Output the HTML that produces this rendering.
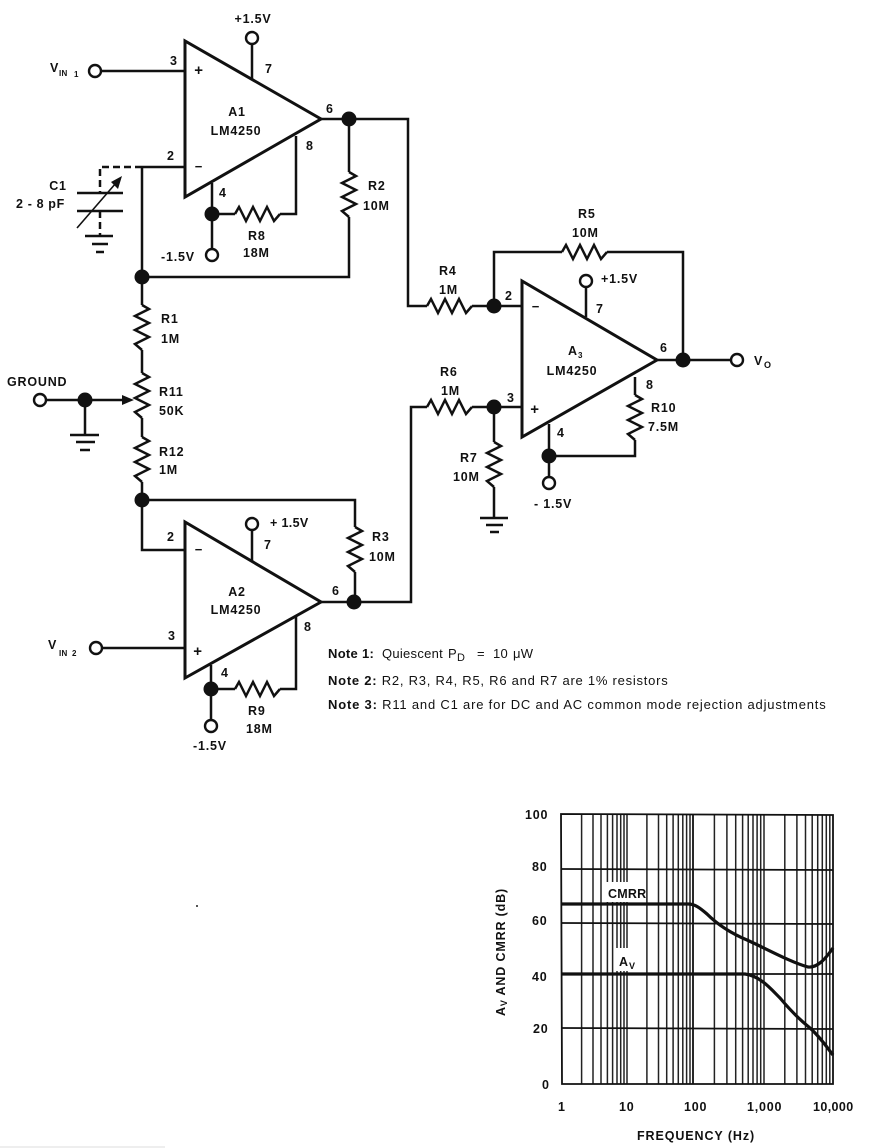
<!DOCTYPE html>
<html><head><meta charset="utf-8"><title>LM4250 instrumentation amplifier</title>
<style>
html,body{margin:0;padding:0;background:#fff}
svg{display:block}
text{font-family:"Liberation Sans",sans-serif;font-size:12.5px;font-weight:bold;fill:#111;letter-spacing:.8px}
.n{font-weight:normal;font-size:13px;letter-spacing:.3px;fill:#111}
.b{font-weight:bold}
.m{text-anchor:middle}
.w{fill:none;stroke:#111;stroke-width:2.5;stroke-linejoin:miter}
.t{fill:none;stroke:#111;stroke-width:3}
.c{fill:#fff;stroke:#111;stroke-width:2.4}
.d{fill:#111}
.g{stroke:#222;stroke-width:1.5;fill:none}
.h{stroke:#111;stroke-width:1.8;fill:none}
</style></head><body>
<svg xmlns="http://www.w3.org/2000/svg" width="890" height="1148" viewBox="0 0 890 1148">
<defs><path id="z" class="w" d="M0 0L4-7 11 7 18-7 25 7 32-7 39 7 45 0"/></defs>

<!-- Op amps -->
<path class="t" d="M185 41V197L321 119Z"/>
<path class="t" d="M185 522V678L321 602Z"/>
<path class="t" d="M522 281V437L657 360Z"/>

<!-- A1 wiring -->
<path class="w" d="M101 71H185M252 44V79M321 119H408V306H427M349 119V172M349 217V277H142M142 167V305M142 167H185"/>
<path class="w" d="M212 183V249M212 214H235M280 214H296V136"/>
<path class="w" stroke-dasharray="7 4" d="M142 167H100V193"/>
<path class="w" stroke-dasharray="7 4" d="M100 211V236"/>
<path class="w" d="M77 193H123M77 211H123M85 236H113"/>
<path class="w" d="M92 244H108M96 252H104"/>
<path d="M77 228L116 183" stroke="#111" stroke-width="1.6" fill="none"/>
<path class="d" d="M122 176L118 189 111 182Z"/>

<!-- Divider and ground -->
<path class="w" d="M142 350V373M142 418V437M142 482V550H185M142 500H355V527M355 572V602"/>
<path class="w" d="M46 400H128M85 400V435M70 435H99M76 442H95M80 450H90"/>
<path class="d" d="M122 395L134 400 122 405Z"/>

<!-- A2 wiring -->
<path class="w" d="M102 648H185M252 530V562M321 602H411V407H427M211 665V720M211 689H235M280 689H296V616"/>

<!-- A3 wiring -->
<path class="w" d="M472 306H522M494 306V252H562M607 252H683V360M657 360H731M586 287V317M472 407H522M494 407V442M494 487V518M480 518H508M486 525H503M490 532H499"/>
<path class="w" d="M549 424V477M549 456H635V440M635 395V377"/>

<!-- Resistors -->
<use href="#z" transform="translate(349,172) rotate(90)"/>
<use href="#z" transform="translate(235,214)"/>
<use href="#z" transform="translate(142,305) rotate(90)"/>
<use href="#z" transform="translate(142,373) rotate(90)"/>
<use href="#z" transform="translate(142,437) rotate(90)"/>
<use href="#z" transform="translate(355,527) rotate(90)"/>
<use href="#z" transform="translate(235,689)"/>
<use href="#z" transform="translate(427,306)"/>
<use href="#z" transform="translate(562,252)"/>
<use href="#z" transform="translate(427,407)"/>
<use href="#z" transform="translate(494,442) rotate(90)"/>
<use href="#z" transform="translate(635,395) rotate(90)"/>

<!-- Terminals -->
<circle class="c" cx="95" cy="71" r="6"/>
<circle class="c" cx="252" cy="38" r="6"/>
<circle class="c" cx="212" cy="255" r="6"/>
<circle class="c" cx="40" cy="400" r="6"/>
<circle class="c" cx="252" cy="524" r="6"/>
<circle class="c" cx="96" cy="648" r="6"/>
<circle class="c" cx="211" cy="726" r="6"/>
<circle class="c" cx="586" cy="281" r="6"/>
<circle class="c" cx="737" cy="360" r="6"/>
<circle class="c" cx="549" cy="483" r="6"/>

<!-- Junctions -->
<circle class="d" cx="349" cy="119" r="7.5"/>
<circle class="d" cx="212" cy="214" r="7.5"/>
<circle class="d" cx="142" cy="277" r="7.5"/>
<circle class="d" cx="85" cy="400" r="7.5"/>
<circle class="d" cx="142" cy="500" r="7.5"/>
<circle class="d" cx="354" cy="602" r="7.5"/>
<circle class="d" cx="211" cy="689" r="7.5"/>
<circle class="d" cx="494" cy="306" r="7.5"/>
<circle class="d" cx="683" cy="360" r="7.5"/>
<circle class="d" cx="494" cy="407" r="7.5"/>
<circle class="d" cx="549" cy="456" r="7.5"/>

<!-- A1 labels -->
<text x="253" y="23" class="m">+1.5V</text>
<text x="50" y="72">V</text><text x="59" y="76" style="font-size:8px;letter-spacing:.3px">IN</text><text x="74" y="77" style="font-size:8px">1</text>
<text x="170" y="65">3</text>
<text x="199" y="75" class="m" style="font-size:15px">+</text>
<text x="199" y="171" class="m" style="font-size:13px">−</text>
<text x="265" y="73">7</text>
<text x="237" y="116" class="m">A1</text>
<text x="236" y="135" class="m">LM4250</text>
<text x="326" y="113">6</text>
<text x="306" y="150">8</text>
<text x="167" y="160">2</text>
<text x="219" y="197">4</text>
<text x="58" y="190" class="m">C1</text>
<text x="16" y="208" textLength="49" lengthAdjust="spacing">2 - 8 pF</text>
<text x="368" y="190">R2</text>
<text x="363" y="210">10M</text>
<text x="248" y="240">R8</text>
<text x="243" y="257">18M</text>
<text x="161" y="261">-1.5V</text>

<!-- Divider labels -->
<text x="161" y="323">R1</text>
<text x="161" y="343">1M</text>
<text x="7" y="386">GROUND</text>
<text x="159" y="396">R11</text>
<text x="159" y="415">50K</text>
<text x="159" y="456">R12</text>
<text x="159" y="474">1M</text>

<!-- A2 labels -->
<text x="167" y="541">2</text>
<text x="199" y="554" class="m" style="font-size:13px">−</text>
<text x="270" y="527" textLength="39" lengthAdjust="spacing">+ 1.5V</text>
<text x="264" y="549">7</text>
<text x="237" y="596" class="m">A2</text>
<text x="236" y="614" class="m">LM4250</text>
<text x="332" y="595">6</text>
<text x="372" y="541">R3</text>
<text x="369" y="561">10M</text>
<text x="48" y="649">V</text><text x="59" y="656" style="font-size:8px;letter-spacing:.3px">IN</text><text x="72" y="656" style="font-size:8px">2</text>
<text x="168" y="640">3</text>
<text x="198" y="656" class="m" style="font-size:15px">+</text>
<text x="304" y="631">8</text>
<text x="221" y="677">4</text>
<text x="248" y="715">R9</text>
<text x="246" y="733">18M</text>
<text x="193" y="750">-1.5V</text>

<!-- A3 labels -->
<text x="578" y="218">R5</text>
<text x="572" y="237">10M</text>
<text x="439" y="275">R4</text>
<text x="439" y="294">1M</text>
<text x="505" y="300">2</text>
<text x="536" y="311" class="m" style="font-size:13px">−</text>
<text x="601" y="283">+1.5V</text>
<text x="596" y="313">7</text>
<text x="568" y="355">A</text><text x="578" y="358" style="font-size:8px">3</text>
<text x="572" y="375" class="m">LM4250</text>
<text x="660" y="352">6</text>
<text x="754" y="365">V</text><text x="764" y="368" style="font-size:9px">O</text>
<text x="646" y="389">8</text>
<text x="651" y="412">R10</text>
<text x="648" y="431">7.5M</text>
<text x="440" y="376">R6</text>
<text x="441" y="395">1M</text>
<text x="507" y="402">3</text>
<text x="535" y="414" class="m" style="font-size:15px">+</text>
<text x="557" y="437">4</text>
<text x="460" y="462">R7</text>
<text x="453" y="481">10M</text>
<text x="534" y="508">- 1.5V</text>

<!-- Notes -->
<text class="n b" x="328" y="658">Note 1:</text>
<text class="n" x="382" y="658" textLength="61" lengthAdjust="spacing">Quiescent</text>
<text class="n" x="448" y="658">P</text><text class="n" x="457" y="661" style="font-size:11px">D</text>
<text class="n" x="477" y="658">=</text>
<text class="n" x="493" y="658">10</text>
<text class="n" x="513" y="658">μW</text>
<text class="n" x="328" y="685" textLength="340" lengthAdjust="spacing"><tspan class="b">Note 2:</tspan> R2, R3, R4, R5, R6 and R7 are 1% resistors</text>
<text class="n" x="328" y="709" textLength="498" lengthAdjust="spacing"><tspan class="b">Note 3:</tspan> R11 and C1 are for DC and AC common mode rejection adjustments</text>

<!-- Graph grid -->
<path class="g" d="M581.6 814V1084M593 814V1084M601 814V1084M607.4 814V1084M612.6 814V1084M617 814V1084M620.7 814V1084M624 814V1084M627 814V1084
M646.9 814V1084M658.5 814V1084M666.7 814V1084M673.1 814V1084M678.3 814V1084M682.8 814V1084M686.6 814V1084M690 814V1084
M714.4 815V1084M726.9 815V1084M735.7 815V1084M742.6 815V1084M748.2 815V1084M753 815V1084M757.1 815V1084M760.7 815V1084M764 815V1084
M784.8 815V1084M796.9 815V1084M805.5 815V1084M812.2 815V1084M817.7 815V1084M822.3 815V1084M826.3 815V1084M829.8 815V1084"/>
<path class="h" d="M693 814V1084M562 869L833 870M562 923L833 924M562 974H833M562 1028L833 1029"/>
<path class="h" stroke-width="2" d="M561 814L833 815V1084H562Z"/>
<rect x="604" y="882" width="42" height="20" fill="#fff"/>
<rect x="616" y="948" width="26" height="23" fill="#fff"/>
<path fill="none" stroke="#111" stroke-width="3.2" d="M562 904H688C695 904 700 908 707 914C716 923 728 932 747 940C765 948 790 962 808 967C818 968 826 958 833 948"/>
<path fill="none" stroke="#111" stroke-width="3.2" d="M562 974H745C760 976 770 988 780 998C790 1010 800 1020 810 1028C820 1037 826 1046 833 1055"/>

<!-- Graph labels -->
<text x="525" y="819">100</text>
<text x="532" y="871">80</text>
<text x="532" y="925">60</text>
<text x="532" y="981">40</text>
<text x="533" y="1033">20</text>
<text x="542" y="1089">0</text>
<text x="558" y="1111">1</text>
<text x="619" y="1111">10</text>
<text x="684" y="1111">100</text>
<text x="747" y="1111">1,000</text>
<text x="813" y="1111" textLength="41" lengthAdjust="spacing">10,000</text>
<text x="637" y="1140" textLength="118" lengthAdjust="spacing">FREQUENCY (Hz)</text>
<text x="608" y="898" textLength="39" lengthAdjust="spacing">CMRR</text>
<text x="619" y="966">A</text><text x="629" y="969" style="font-size:9px">V</text>
<text transform="translate(505,1016) rotate(-90)" textLength="128" lengthAdjust="spacing">A<tspan dy="2" style="font-size:9px">V</tspan><tspan dy="-2"> AND CMRR (dB)</tspan></text>

<!-- Scan artifacts -->
<rect x="196" y="905" width="2" height="2" fill="#555"/>
<rect x="0" y="1146" width="165" height="2" fill="#eee"/>
</svg>
</body></html>
